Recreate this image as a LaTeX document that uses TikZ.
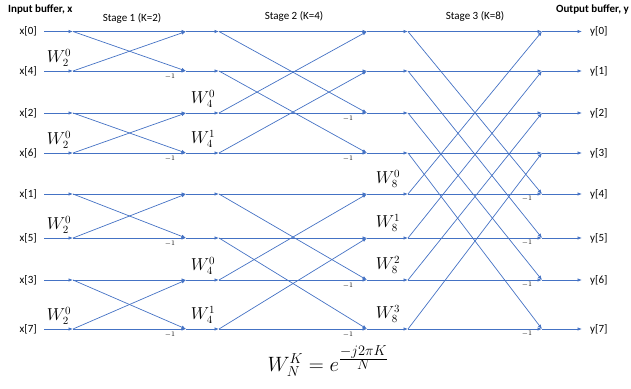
\documentclass[tikz,border=0pt]{standalone}
\usepackage{fontspec}
\setmainfont{Carlito}
\usetikzlibrary{arrows.meta}
\definecolor{fftblue}{RGB}{68,114,196}
\begin{document}
\begin{tikzpicture}[x=1pt,y=-1pt,
  wire/.style={draw=fftblue, line width=0.7pt, -{Latex[length=4.5pt,width=3.5pt]}},
  lbl/.style={font=\fontsize{11}{13}\selectfont, inner sep=0pt},
  title/.style={font=\fontsize{11}{13}\selectfont\bfseries, inner sep=0pt},
  tw/.style={font=\fontsize{16}{16}\selectfont, inner sep=0pt},
  neg/.style={font=\fontsize{7}{7}\selectfont, inner sep=0pt}]
\useasboundingbox (0,0) rectangle (631,388);
% grid of points
\foreach \r/\y in {0/31.5,1/71,2/113,3/153,4/194,5/238,6/280,7/329}{
  \foreach \c/\x in {0/44,1/73,2/186,3/219,4/367,5/408,6/542,7/582}{
    \coordinate (n\r-\c) at (\x,\y);
  }
}
% horizontal wires
\foreach \r in {0,...,7}{
  \foreach \c [evaluate=\c as \d using int(\c+1)] in {0,...,6}{
    \draw[wire] (n\r-\c) -- (n\r-\d);
  }
}
% butterflies
\foreach \a/\b in {0/1,2/3,4/5,6/7}{
  \draw[wire] (n\a-1) -- (n\b-2);
  \draw[wire] (n\b-1) -- (n\a-2);
}
\foreach \a/\b in {0/2,1/3,4/6,5/7}{
  \draw[wire] (n\a-3) -- (n\b-4);
  \draw[wire] (n\b-3) -- (n\a-4);
}
\foreach \a/\b in {0/4,1/5,2/6,3/7}{
  \draw[wire] (n\a-5) -- (n\b-6);
  \draw[wire] (n\b-5) -- (n\a-6);
}
% inputs and outputs
\foreach \r/\i in {0/0,1/4,2/2,3/6,4/1,5/5,6/3,7/7}{
  \node[lbl, anchor=east] (in\r) at ([xshift=-7pt]n\r-0) {x[\i]};
  \node[lbl, anchor=west] (out\r) at ([xshift=8pt]n\r-7) {y[\r]};
}
% twiddle factors
\foreach \r in {1,3,5,7}{
  \node[tw] (wa\r) at ([xshift=-14pt,yshift=13pt]n\r-1) {$W_2^0$};
  \node[neg] (ma\r) at ([xshift=-16pt,yshift=-6pt]n\r-2) {$-1$};
}
\foreach \r/\k in {2/0,3/1,6/0,7/1}{
  \node[tw] (wb\r) at ([xshift=-16pt,yshift=14pt]n\r-3) {$W_4^\k$};
  \node[neg] (mb\r) at ([xshift=-19pt,yshift=-6pt]n\r-4) {$-1$};
}
\foreach \r/\k in {4/0,5/1,6/2,7/3}{
  \node[tw] (wc\r) at ([xshift=-20pt,yshift=15pt]n\r-5) {$W_8^\k$};
  \node[neg] (mc\r) at ([xshift=-15pt,yshift=-5pt]n\r-6) {$-1$};
}
% titles
\node[title, anchor=west] (tin) at (8,10) {Input buffer, x};
\node[title, anchor=east] (tout) at (629,10) {Output buffer, y};
\node[lbl] (s1) at (132,18) {Stage 1 (K=2)};
\node[lbl] (s2) at (294,16) {Stage 2 (K=4)};
\node[lbl] (s3) at (475,16) {Stage 3 (K=8)};
% formula
\node[inner sep=0pt, font=\fontsize{20}{24}\selectfont] (eq) at (328,361) {$W_N^K = e^{\frac{\scriptstyle -j2\pi K}{\scriptstyle N}}$};
\end{tikzpicture}
\end{document}
